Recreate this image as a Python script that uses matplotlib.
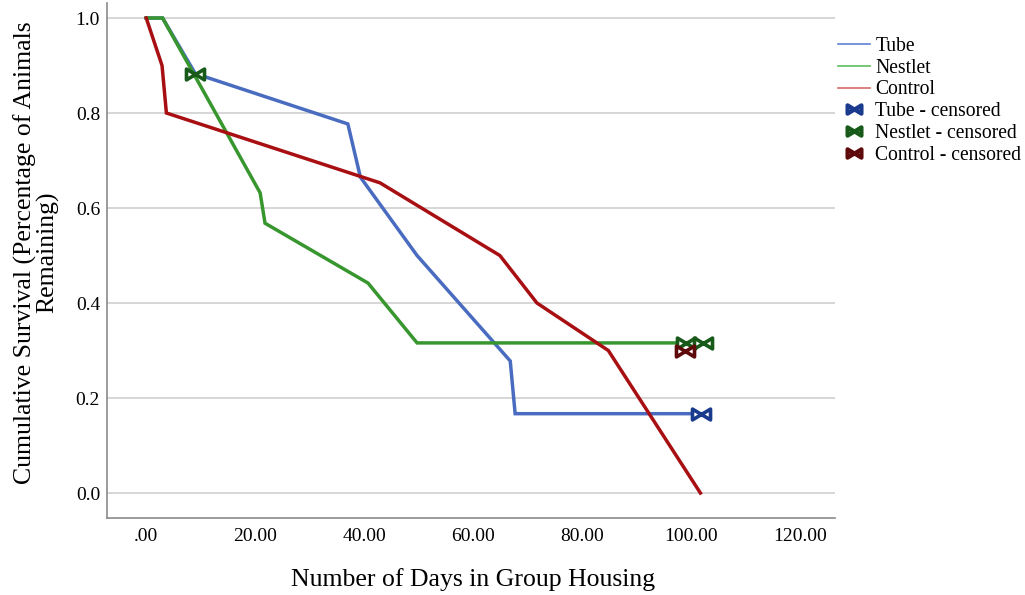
import matplotlib
matplotlib.use("Agg")
import matplotlib.pyplot as plt
from matplotlib.path import Path
from matplotlib.lines import Line2D

# ---- data ----
tube_days = [0, 3, 9, 37, 39.3, 49.7, 66.8, 67.7, 101.8]
tube_surv = [1.0, 1.0, 0.883, 0.777, 0.665, 0.5, 0.278, 0.167, 0.167]

nestlet_days = [0, 3, 20.9, 21.8, 40.7, 49.7, 102.5]
nestlet_surv = [1.0, 1.0, 0.632, 0.568, 0.442, 0.316, 0.316]

control_days = [0, 2.9, 3.7, 42.9, 64.9, 71.7, 84.8, 101.7]
control_surv = [1.0, 0.9, 0.8, 0.653, 0.5, 0.4, 0.3, 0.0]

tube_cens_days = [101.8]
tube_cens_surv = [0.167]
nestlet_cens_days = [9.0, 99.0, 102.2]
nestlet_cens_surv = [0.883, 0.316, 0.316]
control_cens_days = [98.9]
control_cens_surv = [0.298]

x_ticks = [0, 20, 40, 60, 80, 100, 120]
x_tick_labels = [".00", "20.00", "40.00", "60.00", "80.00", "100.00", "120.00"]
y_ticks = [0.0, 0.2, 0.4, 0.6, 0.8, 1.0]
y_tick_labels = ["0.0", "0.2", "0.4", "0.6", "0.8", "1.0"]

series_names = ["Tube", "Nestlet", "Control"]

# ---- style ----
plt.rcParams['font.family'] = ['Liberation Serif', 'DejaVu Serif']
line_colors = ["#4a6cc0", "#38962f", "#a80f12"]
legend_line_colors = ["#5f80d6", "#5cbf5a", "#d46a6a"]
cens_colors = ["#1a3a8e", "#175a1a", "#5e0a0a"]

bowtie = Path([(-1, -0.6), (1, 0.6), (1, -0.6), (-1, 0.6), (-1, -0.6)],
              [Path.MOVETO, Path.LINETO, Path.LINETO, Path.LINETO, Path.CLOSEPOLY])

fig = plt.figure(figsize=(10.25, 5.95), dpi=100)
ax = fig.add_axes([107/1025, 1 - 518/595, (835-107)/1025, (518-3)/595])

ax.set_xlim(-7.2, 126.4)
ax.set_ylim(-0.0526, 1.0316)

for yv in y_ticks:
    ax.axhline(yv, color="#d3d3d3", lw=1.3, zorder=0)

ax.plot(tube_days, tube_surv, color=line_colors[0], lw=2.5, zorder=2, solid_joinstyle='miter')
ax.plot(nestlet_days, nestlet_surv, color=line_colors[1], lw=2.5, zorder=3, solid_joinstyle='miter')
ax.plot(control_days, control_surv, color=line_colors[2], lw=2.5, zorder=4, solid_joinstyle='miter')

cens = [(tube_cens_days, tube_cens_surv), (nestlet_cens_days, nestlet_cens_surv),
        (control_cens_days, control_cens_surv)]
for i, (d, s) in enumerate(cens):
    ax.plot(d, s, linestyle='none', marker=bowtie, markersize=13,
            markerfacecolor='white', markeredgecolor=cens_colors[i],
            markeredgewidth=2.6, zorder=6)

ax.set_xticks(x_ticks)
ax.set_xticklabels(x_tick_labels)
ax.set_yticks(y_ticks)
ax.set_yticklabels(y_tick_labels)
ax.tick_params(axis='both', length=0, labelsize=14, colors='black')
ax.tick_params(axis='x', pad=7)
ax.tick_params(axis='y', pad=5)

for side in ['top', 'right']:
    ax.spines[side].set_visible(False)
for side in ['left', 'bottom']:
    ax.spines[side].set_color('#8a8a8a')
    ax.spines[side].set_linewidth(1.2)

ax.set_xlabel("Number of Days in Group Housing", fontsize=18.5)
ax.set_ylabel("Cumulative Survival (Percentage of Animals\nRemaining)", fontsize=18.5,
              linespacing=0.95)
ax.xaxis.set_label_coords(0.503, -0.097)
ax.yaxis.set_label_coords(-0.065, 0.516)

handles = []
labels = []
for i, n in enumerate(series_names):
    handles.append(Line2D([], [], color=legend_line_colors[i], lw=1.2))
    labels.append(n)
for i, n in enumerate(series_names):
    handles.append(Line2D([], [], linestyle='none', marker=bowtie, markersize=10,
                          markerfacecolor='white', markeredgecolor=cens_colors[i],
                          markeredgewidth=3.0))
    labels.append(n + " - censored")

leg = fig.legend(handles, labels, loc='upper left', bbox_to_anchor=(838/1025, 1 - 37/595),
                 frameon=False, fontsize=14.1, handlelength=1.65, handletextpad=0.25,
                 labelspacing=0.14, borderaxespad=0, borderpad=0)

fig.savefig("out.png", dpi=100)
